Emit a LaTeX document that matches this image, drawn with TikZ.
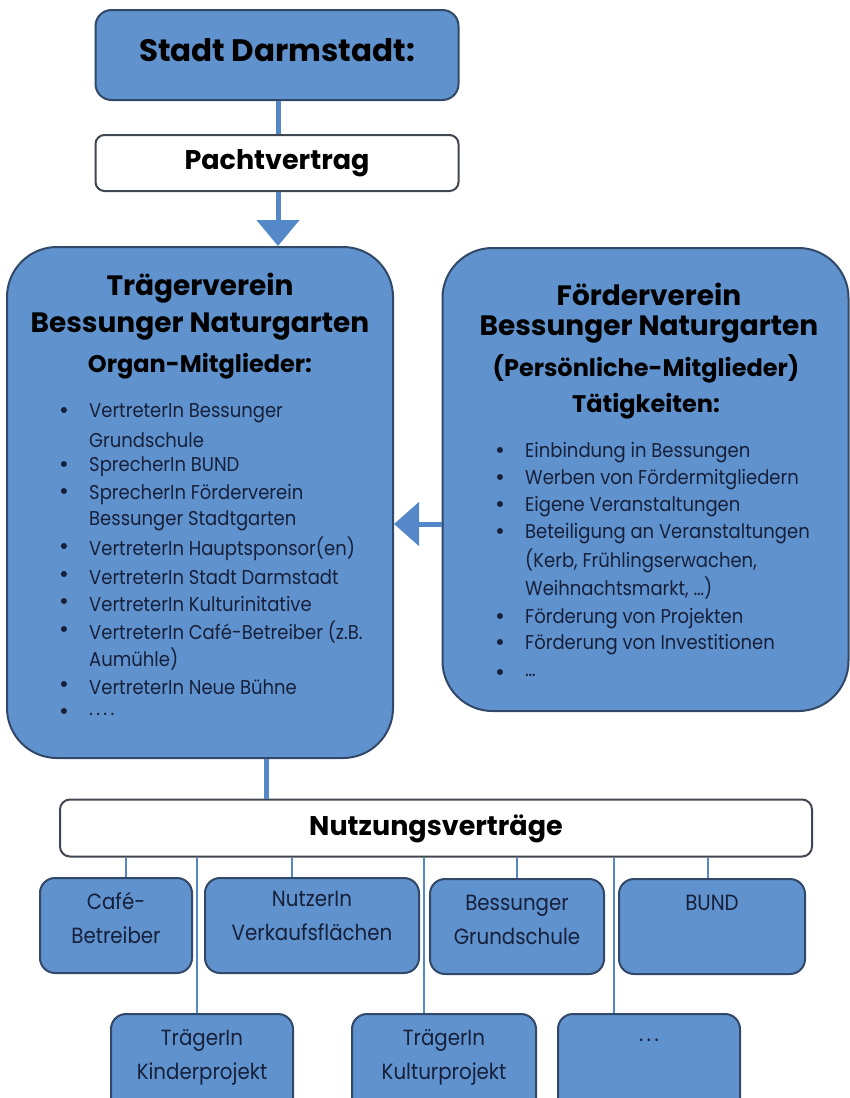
\documentclass[tikz,border=0pt]{standalone}
\usepackage{fontspec}
\setmainfont{Poppins}
\newfontfamily\listfont{Poppins}[FakeStretch=0.9]
\usetikzlibrary{arrows.meta}
\definecolor{boxblue}{RGB}{96,146,206}
\definecolor{boxedge}{RGB}{50,72,104}
\definecolor{greyedge}{RGB}{64,70,80}
\definecolor{lineblue}{RGB}{84,136,200}
\definecolor{navy}{RGB}{22,32,58}
\tikzset{
  bluebox/.style={draw=boxedge, fill=boxblue, line width=2pt, inner sep=0pt},
  whitebox/.style={draw=greyedge, fill=white, line width=2pt, inner sep=0pt},
  thick conn/.style={draw=lineblue, line width=5pt},
  thin conn/.style={draw=lineblue, line width=2.4pt},
  title/.style={font=\bfseries\fontsize{28}{34}\selectfont, text=black, inner sep=0pt},
  subtitle/.style={font=\bfseries\fontsize{24}{28}\selectfont, text=black, inner sep=0pt},
  item/.style={font=\listfont\fontsize{20}{24}\selectfont, text=navy, anchor=west, inner sep=0pt},
  bul/.style={font=\fontsize{24}{24}\selectfont, text=navy, inner sep=0pt},
  small/.style={font=\listfont\fontsize{22}{34}\selectfont, text=navy, inner sep=0pt, align=center},
}
\begin{document}
\begin{tikzpicture}[x=1pt,y=-1pt]
\useasboundingbox (0,0) rectangle (850,1098);
\clip (0,0) rectangle (850,1098);
% top
\node[bluebox, rounded corners=16pt, minimum width=363pt, minimum height=90pt] (stadt) at (277,55) {};
\node[title, font=\bfseries\fontsize{31}{36}\selectfont] (stadtT) at (277,50) {Stadt Darmstadt:};
\node[whitebox, rounded corners=9pt, minimum width=363pt, minimum height=56pt] (pacht) at (277,163) {};
\node[subtitle, font=\bfseries\fontsize{27}{32}\selectfont] (pachtT) at (277,163) {Pachtvertrag};
% big boxes
\node[bluebox, rounded corners=50pt, minimum width=386pt, minimum height=511pt] (traeger) at (200,502.5) {};
\node[bluebox, rounded corners=50pt, minimum width=406pt, minimum height=463pt] (foerder) at (645.5,479.5) {};
% connectors top
\draw[thick conn] (stadt.south -| 278,0) -- (pacht.north -| 278,0);
\draw[thick conn, -{Triangle[width=42pt,length=26pt]}] (pacht.south -| 278,0) -- (traeger.north -| 278,0);
\draw[thick conn, -{Triangle[width=43pt,length=25pt]}] (foerder.west |- 0,524) -- (traeger.east |- 0,524);
% Traeger text
\node[title] (t1) at (200,288) {Trägerverein};
\node[title] (t2) at (200,327) {Bessunger Naturgarten};
\node[subtitle] (t3) at (200,366) {Organ-Mitglieder:};
\foreach \y/\txt/\b in {
 413/{VertreterIn Bessunger}/1, 440/{Grundschule}/0, 467/{SprecherIn BUND}/1,
 494/{SprecherIn Förderverein}/1, 521/{Bessunger Stadtgarten}/0,
 549/{VertreterIn Hauptsponsor(en)}/1, 577/{VertreterIn Stadt Darmstadt}/1,
 604/{VertreterIn Kulturinitative}/1, 632/{VertreterIn Café-Betreiber (z.B.}/1,
 659/{Aumühle)}/0, 687/{VertreterIn Neue Bühne}/1, 714/{.\,.\,.\,.}/1}{
  \node[item] at (89,\y) {\txt};
  \ifnum\b=1 \node[bul] at (64,\y) {\textbullet};\fi
}
% Foerder text
\node[title] (f1) at (649,294) {Förderverein};
\node[title] (f2) at (649,330) {Bessunger Naturgarten};
\node[subtitle] (f3) at (646,369) {(Persönliche-Mitglieder)};
\node[subtitle] (f4) at (646,406) {Tätigkeiten:};
\foreach \y/\txt/\b in {
 453/{Einbindung in Bessungen}/1, 480/{Werben von Fördermitgliedern}/1,
 507/{Eigene Veranstaltungen}/1, 534/{Beteiligung an Veranstaltungen}/1,
 561/{(Kerb, Frühlingserwachen,}/0, 588/{Weihnachtsmarkt, …)}/0,
 619/{Förderung von Projekten}/1, 645/{Förderung von Investitionen}/1, 675/{…}/1}{
  \node[item] at (525,\y) {\txt};
  \ifnum\b=1 \node[bul] at (500,\y) {\textbullet};\fi
}
% Nutzungsvertraege
\node[whitebox, rounded corners=10pt, minimum width=752pt, minimum height=57pt] (nutz) at (436,828) {};
\node[subtitle, font=\bfseries\fontsize{27}{32}\selectfont] (nutzT) at (436,829) {Nutzungsverträge};
\draw[thick conn] (traeger.south -| 266,0) -- (nutz.north -| 266,0);
% row 1
\node[bluebox, rounded corners=15pt, minimum width=152pt, minimum height=95pt] (cafe) at (116,925.5) {};
\node[bluebox, rounded corners=15pt, minimum width=214pt, minimum height=95pt] (nutzer) at (312,925.5) {};
\node[bluebox, rounded corners=15pt, minimum width=174pt, minimum height=95pt] (bess) at (517,926.5) {};
\node[bluebox, rounded corners=15pt, minimum width=186pt, minimum height=95pt] (bund) at (712,926.5) {};
\node[small] (cafeT) at (116,918) {Café-\\Betreiber};
\node[small] (nutzerT) at (312,916) {NutzerIn\\Verkaufsflächen};
\node[small] (bessT) at (517,920) {Bessunger\\Grundschule};
\node[small] (bundT) at (712,903) {BUND};
% row 2
\node[bluebox, rounded corners=15pt, minimum width=182pt, minimum height=100pt] (kinder) at (202,1064) {};
\node[bluebox, rounded corners=15pt, minimum width=184pt, minimum height=100pt] (kultur) at (444,1064) {};
\node[bluebox, rounded corners=15pt, minimum width=182pt, minimum height=100pt] (dots) at (649,1064) {};
\node[small] (kinderT) at (202,1057) {TrägerIn\\Kinderprojekt};
\node[small] (kulturT) at (444,1057) {TrägerIn\\Kulturprojekt};
\node[small] (dotsT) at (649,1040) {.\,.\,.};
% thin connectors
\draw[thin conn] (nutz.south -| 126,0) -- (cafe.north -| 126,0);
\draw[thin conn] (nutz.south -| 292,0) -- (nutzer.north -| 292,0);
\draw[thin conn] (nutz.south -| 517,0) -- (bess.north -| 517,0);
\draw[thin conn] (nutz.south -| 708,0) -- (bund.north -| 708,0);
\draw[thin conn] (nutz.south -| 197,0) -- (kinder.north -| 197,0);
\draw[thin conn] (nutz.south -| 424,0) -- (kultur.north -| 424,0);
\draw[thin conn] (nutz.south -| 614,0) -- (dots.north -| 614,0);
\end{tikzpicture}
\end{document}
